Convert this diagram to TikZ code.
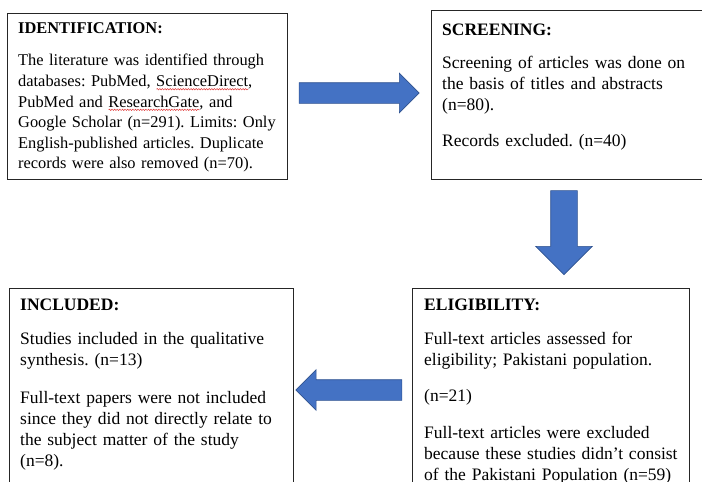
\documentclass[tikz,border=0pt]{standalone}
\usepackage{fontspec}
\setmainfont{Liberation Serif}
\usepackage{xcolor}
\usepackage{tikz}
\usetikzlibrary{shapes.arrows,decorations.pathmorphing}
\definecolor{PRBlue}{HTML}{4472C4}
\definecolor{PRBlueEdge}{HTML}{2F528F}
\definecolor{PRInk}{HTML}{262626}
\definecolor{PRSquiggle}{HTML}{E03030}
\frenchspacing
\newsavebox\prwavebox
\newcommand\prwave[1]{\sbox\prwavebox{#1}%
  \rlap{\tikz[baseline=0pt,x=1pt,y=1pt]\draw[PRSquiggle, line width=0.45pt,
    decorate, decoration={snake, amplitude=0.7pt, segment length=2.6pt}]
    (0,-2.8) -- (\the\wd\prwavebox,-2.8);}\usebox\prwavebox}
\tikzset{
  prbox/.style={draw=PRInk, line width=0.8pt, fill=white, inner sep=0pt,
    anchor=north west},
  prtext/.style={anchor=north west, inner sep=0pt, align=left,
    text width=280pt, text=black,
    font=\fontsize{17.5}{21}\selectfont},
  prsmall/.style={prtext, font=\fontsize{16.4}{20.6}\selectfont},
  prarrow/.style={single arrow, single arrow tip angle=90, draw=PRBlueEdge,
    line width=0.6pt, fill=PRBlue, inner sep=0pt}
}
\begin{document}
\begin{tikzpicture}[x=1pt, y=-1pt]
  \useasboundingbox (0,0) rectangle (702,482);
  \clip (0,0) rectangle (702,482);

  % the four stages
  \node[prbox, minimum width=280pt, minimum height=166pt] (ident) at (7,13) {};
  \node[prbox, minimum width=280pt, minimum height=169pt] (screen) at (431,10) {};
  \node[prbox, minimum width=284pt, minimum height=215pt] (incl) at (9,288) {};
  \node[prbox, minimum width=277pt, minimum height=215pt] (elig) at (412,288) {};

  \node[prsmall] (identtxt) at (18,18.6) {\strut\textbf{IDENTIFICATION:}\\[12pt]
    The literature was identified through\\
    databases: PubMed, \prwave{ScienceDirect},\\
    PubMed and \prwave{ResearchGate}, and\\
    Google Scholar (n=291). Limits: Only\\
    English-published articles. Duplicate\\
    records were also removed (n=70).};
  \node[prtext] (screentxt) at (442,20.3) {\strut\textbf{SCREENING:}\\[12pt]
    Screening of articles was done on\\
    the basis of titles and abstracts\\
    (n=80).\\[15pt]
    Records excluded. (n=40)};
  \node[prtext] (incltxt) at (20,295.3) {\strut\textbf{INCLUDED:}\\[13pt]
    Studies included in the qualitative\\
    synthesis. (n=13)\\[17pt]
    Full-text papers were not included\\
    since they did not directly relate to\\
    the subject matter of the study\\
    (n=8).};
  \node[prtext] (eligtxt) at (424,295.3) {\strut\textbf{ELIGIBILITY:}\\[13pt]
    Full-text articles assessed for\\
    eligibility; Pakistani population.\\[15pt]
    (n=21)\\[16pt]
    Full-text articles were excluded\\
    because these studies didn’t consist\\
    of the Pakistani Population (n=59)};

  % block arrows between the stages
  \node[prarrow, minimum height=120pt, inner ysep=10pt,
    single arrow head extend=9.5pt] (toscreen) at (354,93) {};
  \node[prarrow, shape border rotate=270, minimum height=84pt,
    inner xsep=13pt, single arrow head extend=15pt] (toelig) at (564,226) {};
  \node[prarrow, shape border rotate=180, minimum height=106pt,
    inner ysep=10pt, single arrow head extend=10pt] (toincl) at (354,390) {};
\end{tikzpicture}
\end{document}
